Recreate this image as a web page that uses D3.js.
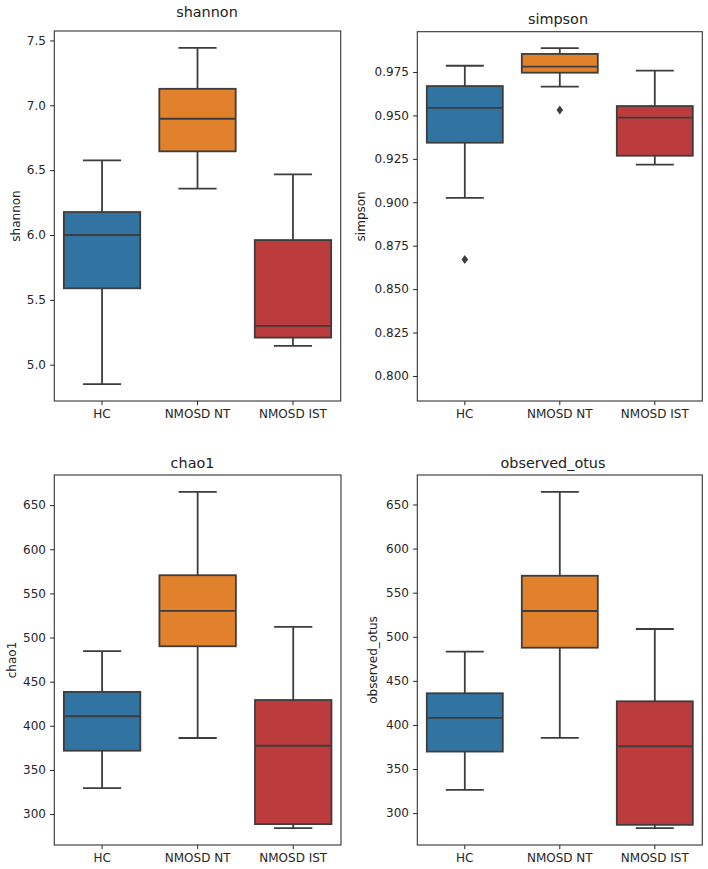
<!DOCTYPE html>
<html>
<head>
<meta charset="utf-8">
<script src="https://cdn.jsdelivr.net/npm/d3@7"></script>
<style>
  body { margin: 0; background: #fff; }
  svg { display: block; font-family: "DejaVu Sans", sans-serif; }
  .tick text { font-family: "DejaVu Sans", sans-serif; font-size: 12px; fill: #262626; }
  .tick line { stroke: #262626; stroke-width: 1; }
</style>
</head>
<body>
<svg width="708" height="869"></svg>
<script>
var groups = ["HC", "NMOSD NT", "NMOSD IST"];
var colors = ["#3274a1", "#e1812c", "#bc3c3e"];

// [lower whisker, q1, median, q3, upper whisker] for each group
var shannonBox = [[4.85, 5.589, 6.0, 6.177, 6.575], [6.357, 6.645, 6.896, 7.127, 7.443], [5.145, 5.209, 5.299, 5.961, 6.468]];
var simpsonBox = [[0.9025, 0.9343, 0.9543, 0.9669, 0.9786], [0.9666, 0.9746, 0.9781, 0.9854, 0.9888], [0.9217, 0.9268, 0.9487, 0.9554, 0.9758]];
var chao1Box = [[329.4, 371.8, 410.8, 438.4, 484.5], [386.2, 490.1, 530.2, 570.6, 665.1], [284.0, 288.6, 377.4, 429.2, 512.0]];
var otusBox = [[326.3, 369.8, 407.9, 435.9, 483.1], [385.3, 487.6, 529.2, 569.2, 664.4], [282.9, 286.7, 375.8, 426.8, 508.8]];

var shannonOutliers = [[], [], []];
var simpsonOutliers = [[0.867], [0.9531], []];
var chao1Outliers = [[], [], []];
var otusOutliers = [[], [], []];

var shannonTicks = [5.0, 5.5, 6.0, 6.5, 7.0, 7.5];
var simpsonTicks = [0.800, 0.825, 0.850, 0.875, 0.900, 0.925, 0.950, 0.975];
var countTicks = [300, 350, 400, 450, 500, 550, 600, 650];
var simpsonLimits = [0.7856, 0.9982];

var panels = [
    {name: "shannon", box: shannonBox, out: shannonOutliers, ticks: shannonTicks, fmt: ".1f", limits: null,
     left: 54.3, right: 340.7, top: 31, bottom: 401, titleX: 207, titleY: 17.3, labelX: 20},
    {name: "simpson", box: simpsonBox, out: simpsonOutliers, ticks: simpsonTicks, fmt: ".3f", limits: simpsonLimits,
     left: 417.3, right: 702.3, top: 31.7, bottom: 401, titleX: 558, titleY: 24, labelX: 365},
    {name: "chao1", box: chao1Box, out: chao1Outliers, ticks: countTicks, fmt: "d", limits: null,
     left: 54.3, right: 341, top: 475, bottom: 845, titleX: 192.5, titleY: 467.7, labelX: 16},
    {name: "observed_otus", box: otusBox, out: otusOutliers, ticks: countTicks, fmt: "d", limits: null,
     left: 417.3, right: 702.3, top: 475, bottom: 845, titleX: 553, titleY: 467.7, labelX: 377}
];

var svg = d3.select("svg");
var lineColor = "#3d3d3d";

panels.forEach(function(p) {
    var g = svg.append("g");

    var domain = p.limits;
    if (!domain) {
        var vals = [];
        p.box.forEach(function(b, i) { vals = vals.concat(b, p.out[i]); });
        var lo = d3.min(vals), hi = d3.max(vals), pad = (hi - lo) * 0.05;
        domain = [lo - pad, hi + pad];
    }

    var x = d3.scaleBand().domain(groups).range([p.left, p.right]).padding(0);
    var y = d3.scaleLinear().domain(domain).range([p.bottom, p.top]);
    var bw = x.bandwidth() * 0.8;
    var cw = bw * 0.5;

    g.append("g")
        .attr("transform", "translate(" + p.left + ",0)")
        .call(d3.axisLeft(y).tickValues(p.ticks).tickFormat(d3.format(p.fmt)).tickSize(4.2).tickPadding(4.2))
        .call(function(a) { a.select(".domain").remove(); })
        .attr("font-family", null).attr("font-size", null);

    g.append("g")
        .attr("transform", "translate(0," + p.bottom + ")")
        .call(d3.axisBottom(x).tickSize(4.2).tickPadding(4.2))
        .call(function(a) { a.select(".domain").remove(); })
        .attr("font-family", null).attr("font-size", null);

    var box = g.selectAll(".box").data(p.box).enter().append("g");
    box.each(function(b, i) {
        var cx = x(groups[i]) + x.bandwidth() / 2;
        var s = d3.select(this);
        s.append("line").attr("x1", cx).attr("x2", cx).attr("y1", y(b[0])).attr("y2", y(b[1]))
            .attr("stroke", lineColor).attr("stroke-width", 1.8);
        s.append("line").attr("x1", cx).attr("x2", cx).attr("y1", y(b[3])).attr("y2", y(b[4]))
            .attr("stroke", lineColor).attr("stroke-width", 1.8);
        s.append("line").attr("x1", cx - cw / 2).attr("x2", cx + cw / 2).attr("y1", y(b[0])).attr("y2", y(b[0]))
            .attr("stroke", lineColor).attr("stroke-width", 1.8);
        s.append("line").attr("x1", cx - cw / 2).attr("x2", cx + cw / 2).attr("y1", y(b[4])).attr("y2", y(b[4]))
            .attr("stroke", lineColor).attr("stroke-width", 1.8);
        s.append("rect").attr("x", cx - bw / 2).attr("width", bw)
            .attr("y", y(b[3])).attr("height", y(b[1]) - y(b[3]))
            .attr("fill", colors[i]).attr("stroke", lineColor).attr("stroke-width", 1.8);
        s.append("line").attr("x1", cx - bw / 2).attr("x2", cx + bw / 2).attr("y1", y(b[2])).attr("y2", y(b[2]))
            .attr("stroke", lineColor).attr("stroke-width", 1.8);
        s.selectAll("path").data(p.out[i]).enter().append("path")
            .attr("d", function(v) {
                var py = y(v);
                return "M" + cx + "," + (py - 4.5) + "L" + (cx + 3.3) + "," + py + "L" + cx + "," + (py + 4.5) + "L" + (cx - 3.3) + "," + py + "Z";
            })
            .attr("fill", lineColor);
    });

    g.append("rect")
        .attr("x", p.left).attr("y", p.top)
        .attr("width", p.right - p.left).attr("height", p.bottom - p.top)
        .attr("fill", "none").attr("stroke", "#333").attr("stroke-width", 1.1);

    g.append("text")
        .attr("x", p.titleX).attr("y", p.titleY)
        .attr("text-anchor", "middle").attr("font-size", 14.4).attr("fill", "#222")
        .text(p.name);

    g.append("text")
        .attr("transform", "translate(" + p.labelX + "," + ((p.top + p.bottom) / 2) + ") rotate(-90)")
        .attr("text-anchor", "middle").attr("font-size", 12).attr("fill", "#222")
        .text(p.name);
});
</script>
</body>
</html>
